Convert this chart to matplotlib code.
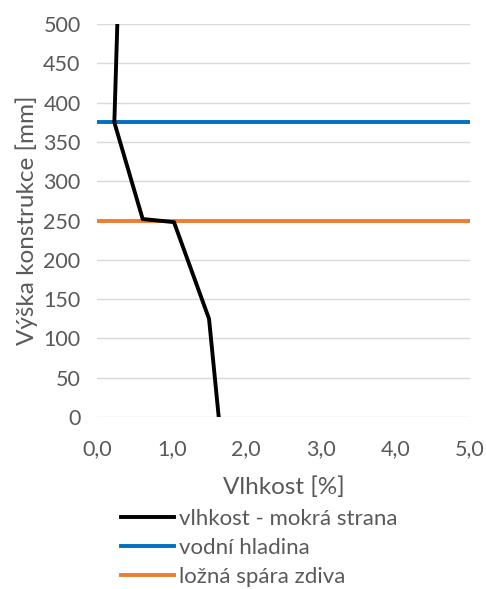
import matplotlib.pyplot as plt

plt.rcParams['font.family'] = ['Lato', 'DejaVu Sans']

# data
vlhkost = [1.63, 1.50, 1.03, 0.61, 0.23, 0.27]
vyska = [0, 125, 248, 252, 375, 500]
vodni_hladina = 375
lozna_spara = 250
x_ticks = [0, 1, 2, 3, 4, 5]
x_labels = ['0,0', '1,0', '2,0', '3,0', '4,0', '5,0']
y_ticks = [0, 50, 100, 150, 200, 250, 300, 350, 400, 450, 500]

grey = '#595959'
fig = plt.figure(figsize=(4.86, 5.89), dpi=100)
ax = fig.add_axes([0.2, 0.292, 0.767, 0.667])

ax.plot(vlhkost, vyska, color='black', lw=2.8, label='vlhkost - mokrá strana', zorder=3)
ax.plot([0, 5], [vodni_hladina, vodni_hladina], color='#0070C0', lw=2.8,
        label='vodní hladina', zorder=2)
ax.plot([0, 5], [lozna_spara, lozna_spara], color='#ED7D31', lw=2.8,
        label='ložná spára zdiva', zorder=2)

ax.set_xlim(0, 5)
ax.set_ylim(0, 500)
ax.set_xticks(x_ticks)
ax.set_xticklabels(x_labels)
ax.set_yticks(y_ticks)
ax.grid(axis='y', color='#D9D9D9', lw=1)
ax.set_axisbelow(True)
for s in ax.spines.values():
    s.set_visible(False)
ax.tick_params(length=0, labelsize=15.5, colors=grey)
ax.tick_params(axis='x', pad=16)
ax.tick_params(axis='y', pad=12)
ax.set_xlabel('Vlhkost [%]', fontsize=17.5, color=grey, labelpad=12)
ax.set_ylabel('Výška konstrukce [mm]', fontsize=17.5, color=grey, labelpad=4)

ax.legend(loc='upper left', bbox_to_anchor=(0.04, -0.212), frameon=False,
          fontsize=16, labelcolor=grey, handlelength=2.4, handletextpad=0.2,
          labelspacing=0.4, borderaxespad=0)

fig.savefig('out.png', dpi=100)
